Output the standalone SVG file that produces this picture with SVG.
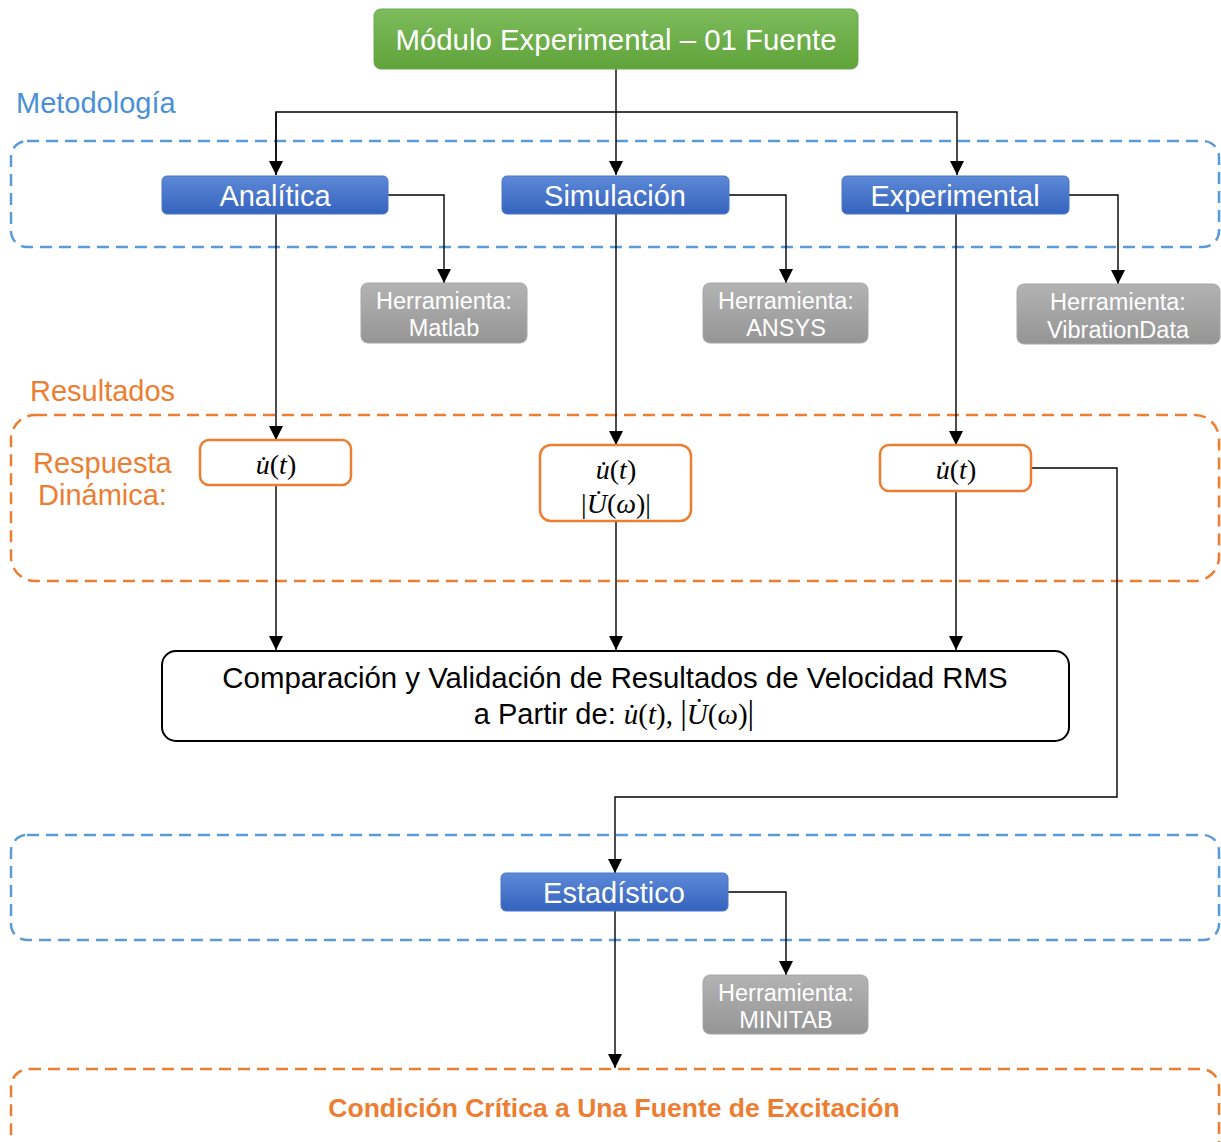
<svg xmlns="http://www.w3.org/2000/svg" width="1221" height="1142" viewBox="0 0 1221 1142">
<defs>
<linearGradient id="gGreen" x1="0" y1="0" x2="0" y2="1"><stop offset="0" stop-color="#7dbb5c"/><stop offset="1" stop-color="#5fa33a"/></linearGradient>
<linearGradient id="gBlue" x1="0" y1="0" x2="0" y2="1"><stop offset="0" stop-color="#5d89d6"/><stop offset="1" stop-color="#3463be"/></linearGradient>
<linearGradient id="gGray" x1="0" y1="0" x2="0" y2="1"><stop offset="0" stop-color="#b3b3b3"/><stop offset="1" stop-color="#959595"/></linearGradient>
<marker id="arr" markerUnits="userSpaceOnUse" markerWidth="14" markerHeight="16" refX="14" refY="7" orient="auto"><path d="M0,0 L14,7 L0,14 Z" fill="#000"/></marker>
<style>
.conn{fill:none;stroke:#000;stroke-width:1.4}
.sans{font-family:"Liberation Sans",Arial,sans-serif}
.wt{fill:#fff;text-anchor:middle}
.blueBox{fill:url(#gBlue);stroke:#4a76c9;stroke-width:1}
.grayBox{fill:url(#gGray);stroke:#a6a6a6;stroke-width:1}
.orBox{fill:#fff;stroke:#ed7d31;stroke-width:2.5}
.math{font-family:"Liberation Serif","Times New Roman",serif;font-size:28px;text-anchor:middle;fill:#000}
.dashB{fill:none;stroke:#5b9bd5;stroke-width:2.5;stroke-dasharray:12 7}
.dashO{fill:none;stroke:#ed7d31;stroke-width:2.5;stroke-dasharray:12 7}
.orT{fill:#ed7d31}
.bl{font-size:29px}
.gt{font-size:23.5px}
</style>
</defs>

<g id="regions">
<rect class="dashB" x="11" y="141" width="1208" height="106" rx="16"/>
<rect class="dashO" x="11" y="415" width="1208" height="166" rx="24"/>
<rect class="dashB" x="11" y="835" width="1208" height="105" rx="16"/>
<rect class="dashO" x="11" y="1069" width="1208" height="100" rx="18"/>
<text class="sans" x="16" y="113" font-size="29" fill="#4a90d9">Metodología</text>
<text class="sans orT" x="30" y="401" font-size="29">Resultados</text>
<text class="sans orT" x="33" y="473" font-size="29">Respuesta</text>
<text class="sans orT" x="38" y="505" font-size="29">Dinámica:</text>
</g>

<g id="connectors">
<path class="conn" d="M616,69 V175" marker-end="url(#arr)"/>
<path class="conn" d="M276,175 V112 H957 V175" marker-end="url(#arr)"/>
<path class="conn" d="M276,112 V175" marker-end="url(#arr)"/>
<path class="conn" d="M388,195 H444 V283" marker-end="url(#arr)"/>
<path class="conn" d="M729,195 H786 V283" marker-end="url(#arr)"/>
<path class="conn" d="M1069,195 H1118 V284" marker-end="url(#arr)"/>
<path class="conn" d="M276,214 V440" marker-end="url(#arr)"/>
<path class="conn" d="M616,214 V445" marker-end="url(#arr)"/>
<path class="conn" d="M956,214 V445" marker-end="url(#arr)"/>
<path class="conn" d="M276,485 V650" marker-end="url(#arr)"/>
<path class="conn" d="M616,521 V650" marker-end="url(#arr)"/>
<path class="conn" d="M956,491 V650" marker-end="url(#arr)"/>
<path class="conn" d="M1031,468 H1117 V797 H615 V873" marker-end="url(#arr)"/>
<path class="conn" d="M728,892 H786 V975" marker-end="url(#arr)"/>
<path class="conn" d="M615,911 V1068" marker-end="url(#arr)"/>
</g>

<g id="modulo">
<rect x="374" y="9" width="484" height="60" rx="7" fill="url(#gGreen)" stroke="#6aa84f" stroke-width="1"/>
<text class="sans wt" x="616" y="50" font-size="29.4">Módulo Experimental – 01 Fuente</text>
</g>

<g id="analitica">
<rect class="blueBox" x="162" y="176" width="226" height="38" rx="5"/>
<text class="sans wt bl" x="275" y="206">Analítica</text>
</g>
<g id="simulacion">
<rect class="blueBox" x="502" y="176" width="227" height="38" rx="5"/>
<text class="sans wt bl" x="615" y="206">Simulación</text>
</g>
<g id="experimental">
<rect class="blueBox" x="842" y="176" width="227" height="38" rx="5"/>
<text class="sans wt bl" x="955" y="206">Experimental</text>
</g>

<g id="matlab">
<rect class="grayBox" x="361" y="283" width="166" height="60" rx="7"/>
<text class="sans wt gt" x="444" y="309">Herramienta:</text>
<text class="sans wt gt" x="444" y="336">Matlab</text>
</g>
<g id="ansys">
<rect class="grayBox" x="703" y="283" width="165" height="60" rx="7"/>
<text class="sans wt gt" x="786" y="309">Herramienta:</text>
<text class="sans wt gt" x="786" y="336">ANSYS</text>
</g>
<g id="vibrationdata">
<rect class="grayBox" x="1017" y="284" width="203" height="60" rx="7"/>
<text class="sans wt gt" x="1118" y="310">Herramienta:</text>
<text class="sans wt gt" x="1118" y="338">VibrationData</text>
</g>

<g id="resp-analitica">
<rect class="orBox" x="200" y="440" width="151" height="45" rx="9"/>
<text class="math" x="276" y="474"><tspan font-style="italic">u̇</tspan>(<tspan font-style="italic">t</tspan>)</text>
</g>
<g id="resp-simulacion">
<rect class="orBox" x="540" y="445" width="151" height="76" rx="11"/>
<text class="math" x="616" y="479"><tspan font-style="italic">u̇</tspan>(<tspan font-style="italic">t</tspan>)</text>
<text class="math" x="616" y="513">|<tspan font-style="italic">U̇</tspan>(<tspan font-style="italic">ω</tspan>)|</text>
</g>
<g id="resp-experimental">
<rect class="orBox" x="880" y="445" width="151" height="46" rx="9"/>
<text class="math" x="956" y="479"><tspan font-style="italic">u̇</tspan>(<tspan font-style="italic">t</tspan>)</text>
</g>

<g id="comparacion">
<rect x="162" y="651" width="907" height="90" rx="14" fill="#fff" stroke="#000" stroke-width="2"/>
<text class="sans" x="615" y="688" font-size="29.4" text-anchor="middle">Comparación y Validación de Resultados de Velocidad RMS</text>
<text x="614" y="724" text-anchor="middle"><tspan class="sans" font-size="29">a Partir de: </tspan><tspan font-family="Liberation Serif,serif" font-size="29"><tspan font-style="italic">u̇</tspan>(<tspan font-style="italic">t</tspan>), <tspan font-size="33">|</tspan><tspan font-style="italic">U̇</tspan>(<tspan font-style="italic">ω</tspan>)<tspan font-size="33">|</tspan></tspan></text>
</g>

<g id="estadistico">
<rect class="blueBox" x="501" y="873" width="227" height="38" rx="5"/>
<text class="sans wt bl" x="614" y="903">Estadístico</text>
</g>
<g id="minitab">
<rect class="grayBox" x="703" y="975" width="165" height="59" rx="7"/>
<text class="sans wt gt" x="786" y="1001">Herramienta:</text>
<text class="sans wt gt" x="786" y="1028">MINITAB</text>
</g>

<g id="condicion">
<text class="sans orT" x="614" y="1117" font-size="26.5" font-weight="bold" text-anchor="middle">Condición Crítica a Una Fuente de Excitación</text>
</g>
</svg>
